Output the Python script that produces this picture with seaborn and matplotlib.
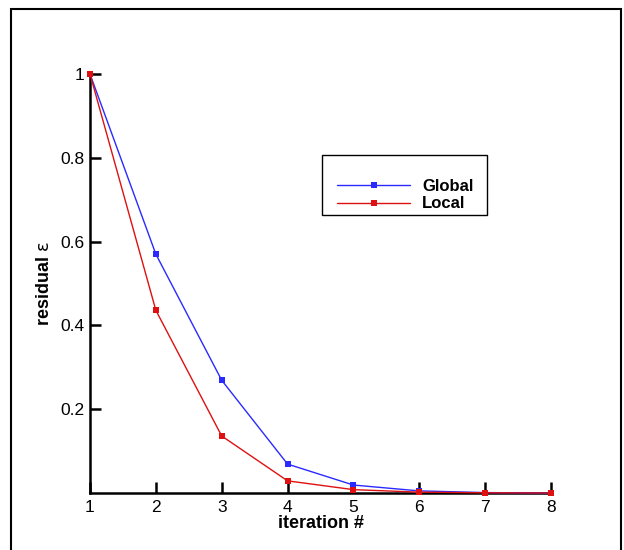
"""
Residual vs iteration chart: global vs local iteration scheme.
"""

import pandas as pd
import matplotlib
matplotlib.use("Agg")
import matplotlib.pyplot as plt
import matplotlib.patches as patches
import seaborn as sns

# data
iterations = [1, 2, 3, 4, 5, 6, 7, 8]
global_residual = [1.0, 0.57, 0.269, 0.069, 0.019, 0.005, 0.001, 0.0]
local_residual = [1.0, 0.436, 0.136, 0.029, 0.008, 0.002, 0.0005, 0.0]
series_names = ["Global", "Local"]
series_colors = {"Global": "#2a2aff", "Local": "#dd1111"}
y_ticks = [0.2, 0.4, 0.6, 0.8, 1.0]
y_tick_labels = ["0.2", "0.4", "0.6", "0.8", "1"]

sns.set_theme(style="white")
plt.rcParams["font.family"] = ["Liberation Sans", "DejaVu Sans"]
plt.rcParams["text.color"] = "black"
plt.rcParams["axes.labelcolor"] = "black"

df = pd.concat([
    pd.DataFrame({"iteration": iterations, "residual": global_residual, "scheme": "Global"}),
    pd.DataFrame({"iteration": iterations, "residual": local_residual, "scheme": "Local"}),
])

fig = plt.figure(figsize=(6.24, 5.5), dpi=100)
ax = fig.add_axes([90 / 624, 57 / 550, 461 / 624, 419 / 550])

sns.lineplot(data=df, x="iteration", y="residual", hue="scheme",
             hue_order=series_names, palette=series_colors,
             style="scheme", markers=["s", "s"], dashes=False,
             linewidth=1.0, markersize=4.5, markeredgewidth=0,
             ax=ax, clip_on=False)

ax.set_xlim(1, 8)
ax.set_ylim(0, 1)
ax.set_xticks(iterations)
ax.set_xticklabels([str(i) for i in iterations])
ax.set_yticks(y_ticks)
ax.set_yticklabels(y_tick_labels)

for side in ["top", "right"]:
    ax.spines[side].set_visible(False)
for side in ["left", "bottom"]:
    ax.spines[side].set_color("black")
    ax.spines[side].set_linewidth(1.8)
    ax.spines[side].set_zorder(1)

ax.tick_params(axis="both", direction="in", length=8, width=1.8,
               colors="black", labelcolor="black", labelsize=12.5)
ax.tick_params(axis="x", bottom=True, pad=5)
ax.tick_params(axis="y", left=True, pad=4)

ax.set_xlabel("iteration #", fontsize=13, fontweight="bold", labelpad=0)
ax.set_ylabel("residual $\\mathrm{\\varepsilon}$", fontsize=13,
              fontweight="bold", labelpad=5)

# legend entries without frame; the box is drawn separately
handles, labels = ax.get_legend_handles_labels()
leg = ax.legend(handles, labels, loc="upper left",
                bbox_to_anchor=(337 / 624, 1 - 179 / 550),
                bbox_transform=fig.transFigure,
                frameon=False, borderpad=0,
                handlelength=4.4, handletextpad=0.72, labelspacing=0.15,
                borderaxespad=0, prop={"weight": "bold", "size": 12})
for text in leg.get_texts():
    text.set_color("black")

legend_box = patches.Rectangle((322 / 624, 1 - 215 / 550), 165 / 624, 60 / 550,
                               transform=fig.transFigure, fill=False,
                               edgecolor="black", linewidth=1.0)
fig.patches.append(legend_box)

# outer frame around the figure
frame = patches.Rectangle((11 / 624, -0.05), 610 / 624, 1.05 - 9 / 550,
                          transform=fig.transFigure, fill=False,
                          edgecolor="black", linewidth=1.5)
fig.patches.append(frame)

fig.savefig("out.png", dpi=100)
plt.close(fig)
